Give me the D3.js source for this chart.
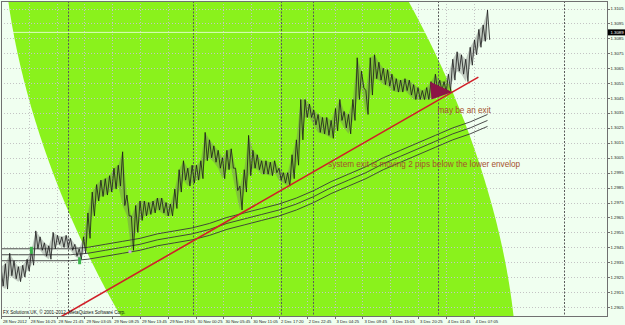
<!DOCTYPE html>
<html>
<head>
<meta charset="utf-8">
<script src="https://cdn.jsdelivr.net/npm/d3@7"></script>
<style>
  html, body { margin: 0; padding: 0; background: #f0fff0; }
  svg { display: block; font-family: 'Liberation Sans', Arial, sans-serif; }
</style>
</head>
<body>
<div id="chart"></div>
<script>
// price axis labels (right side)
const priceTicks = [1.3105, 1.3095, 1.3085, 1.3075, 1.3065, 1.3055, 1.3045, 1.3035, 1.3025, 1.3015,
  1.3005, 1.2995, 1.2985, 1.2975, 1.2965, 1.2955, 1.2945, 1.2935, 1.2925, 1.2915, 1.2905];
const currentPrice = 1.3089;

// time axis labels, one every 64 bars (M5)
const labelStep = 64;
const timeLabels = ['28 Nov 2012', '28 Nov 16:25', '28 Nov 21:45', '29 Nov 03:05', '29 Nov 08:25',
  '29 Nov 13:45', '29 Nov 19:05', '30 Nov 00:25', '30 Nov 05:45', '30 Nov 11:05', '2 Dec 17:20',
  '2 Dec 22:45', '3 Dec 04:25', '3 Dec 09:45', '3 Dec 15:05', '3 Dec 20:25', '4 Dec 01:45', '4 Dec 07:05'];

// day separators (bar index)
const daySeparators = [155, 443, 645, 719, 1007, 1295];

// price range per 10 bars
const barStep = 10;
const highs = [1.2932, 1.2934, 1.2941, 1.2936, 1.2932, 1.2933, 1.2937, 1.2943, 1.2956, 1.2952,
  1.2948, 1.2946, 1.2955, 1.2953, 1.2952, 1.2953, 1.2951, 1.2947, 1.2944, 1.2952,
  1.2968, 1.2982, 1.2987, 1.2990, 1.2991, 1.2993, 1.2998, 1.3000, 1.3009, 1.2980,
  1.2966, 1.2973, 1.2976, 1.2976, 1.2975, 1.2976, 1.2978, 1.2978, 1.2975, 1.2974,
  1.2984, 1.2997, 1.3003, 1.2998, 1.3000, 1.3000, 1.3003, 1.3022, 1.3017, 1.3013,
  1.3010, 1.3005, 1.3010, 1.3011, 1.2998, 1.2986, 1.2997, 1.3020, 1.3010, 1.3007,
  1.3003, 1.3003, 1.3002, 1.3003, 1.2998, 1.2995, 1.2995, 1.3007, 1.3017, 1.3044,
  1.3044, 1.3041, 1.3037, 1.3034, 1.3032, 1.3032, 1.3030, 1.3038, 1.3044, 1.3036,
  1.3034, 1.3044, 1.3072, 1.3063, 1.3050, 1.3072, 1.3074, 1.3069, 1.3065, 1.3064,
  1.3061, 1.3058, 1.3057, 1.3058, 1.3057, 1.3054, 1.3052, 1.3050, 1.3052, 1.3056,
  1.3061, 1.3057, 1.3056, 1.3061, 1.3071, 1.3076, 1.3074, 1.3071, 1.3079, 1.3084,
  1.3091, 1.3094, 1.3104];
const lows = [1.2919, 1.2917, 1.2926, 1.2924, 1.2922, 1.2925, 1.2929, 1.2933, 1.2944, 1.2943,
  1.2939, 1.2937, 1.2944, 1.2947, 1.2945, 1.2945, 1.2943, 1.2939, 1.2937, 1.2941,
  1.2951, 1.2966, 1.2976, 1.2979, 1.2980, 1.2982, 1.2984, 1.2986, 1.2973, 1.2966,
  1.2943, 1.2955, 1.2963, 1.2966, 1.2967, 1.2968, 1.2970, 1.2968, 1.2966, 1.2966,
  1.2971, 1.2982, 1.2990, 1.2986, 1.2988, 1.2990, 1.2991, 1.3003, 1.3005, 1.3002,
  1.2998, 1.2991, 1.2997, 1.2998, 1.2983, 1.2970, 1.2982, 1.2993, 1.2998, 1.2997,
  1.2994, 1.2994, 1.2993, 1.2995, 1.2990, 1.2988, 1.2986, 1.2991, 1.3000, 1.3017,
  1.3032, 1.3032, 1.3027, 1.3022, 1.3021, 1.3020, 1.3018, 1.3023, 1.3030, 1.3025,
  1.3021, 1.3030, 1.3044, 1.3052, 1.3034, 1.3047, 1.3058, 1.3057, 1.3054, 1.3053,
  1.3050, 1.3049, 1.3049, 1.3050, 1.3047, 1.3044, 1.3044, 1.3044, 1.3044, 1.3045,
  1.3050, 1.3050, 1.3049, 1.3050, 1.3057, 1.3063, 1.3061, 1.3056, 1.3067, 1.3074,
  1.3079, 1.3083, 1.3084];

// envelopes, one value per 40 bars
const envStep = 40;
const envUpper = [1.2944, 1.2944, 1.2944, 1.2944, 1.2944, 1.2945, 1.2947, 1.2949, 1.2951, 1.2954,
  1.2956, 1.2958, 1.2961, 1.2965, 1.2968, 1.2971, 1.2974, 1.2978, 1.2983, 1.2989,
  1.2994, 1.2999, 1.3005, 1.3010, 1.3015, 1.3020, 1.3025, 1.3029, 1.3034];
const envMiddle = [1.2940, 1.2940, 1.2940, 1.2940, 1.2940, 1.2941, 1.2943, 1.2945, 1.2947, 1.2950,
  1.2952, 1.2954, 1.2957, 1.2961, 1.2964, 1.2967, 1.2970, 1.2974, 1.2979, 1.2985,
  1.2990, 1.2995, 1.3001, 1.3006, 1.3011, 1.3016, 1.3021, 1.3025, 1.3030];
const envLower = [1.2936, 1.2936, 1.2936, 1.2936, 1.2936, 1.2937, 1.2939, 1.2941, 1.2943, 1.2946,
  1.2948, 1.2950, 1.2953, 1.2957, 1.2960, 1.2963, 1.2966, 1.2970, 1.2975, 1.2981,
  1.2986, 1.2991, 1.2997, 1.3002, 1.3007, 1.3012, 1.3017, 1.3021, 1.3026];

// drawn objects
const ellipseCenter = { bar: 596, price: 1.3010 };
const ellipseAxisA = { bars: 495, price: 0 };
const ellipseAxisB = { bars: 324, price: -0.0273 };
const trendLine = [{ bar: 129, price: 1.2897 }, { bar: 1099, price: 1.3059 }];
const exitTriangle = [{ bar: 988, price: 1.3056 }, { bar: 991, price: 1.3044 }, { bar: 1039, price: 1.3049 }];
const signals = [
  { bar: 70, price: 1.2943, kind: 'buy' },
  { bar: 181, price: 1.2936, kind: 'buy' },
  { bar: 297, price: 1.2942, kind: 'exit' }
];
const notes = [
  { bar: 1005, price: 1.3035, text: 'may be an exit' },
  { bar: 753, price: 1.2999, text: 'system exit is moving 2 pips below the lower envelop' }
];
const copyright = 'FX Solutions UK, \u00a9 2001-2012, MetaQuotes Software Corp.';

const width = 625;
const height = 325;
const plot = { left: 1, top: 1, right: 607, bottom: 316 };

const x = d3.scaleLinear().domain([0, 1280]).range([1, 557]);
const y = d3.scaleLinear().domain([1.2905, 1.3105]).range([307, 8.5]);

const svg = d3
  .select('#chart')
  .append('svg')
  .attr('width', width)
  .attr('height', height);

svg.append('rect').attr('width', width).attr('height', height).attr('fill', '#f0fff0');

svg
  .append('clipPath')
  .attr('id', 'plotClip')
  .append('rect')
  .attr('x', plot.left)
  .attr('y', plot.top)
  .attr('width', plot.right - plot.left)
  .attr('height', plot.bottom - plot.top);

const g = svg.append('g').attr('clip-path', 'url(#plotClip)');

// big ellipse object
const ellipsePts = d3.range(0, 361, 2).map(t => {
  const r = (t * Math.PI) / 180;
  return [
    x(ellipseCenter.bar + ellipseAxisA.bars * Math.cos(r) + ellipseAxisB.bars * Math.sin(r)),
    y(ellipseCenter.price + ellipseAxisA.price * Math.cos(r) + ellipseAxisB.price * Math.sin(r))
  ];
});
g.append('path')
  .attr('d', d3.line()(ellipsePts) + 'Z')
  .attr('fill', '#8af21c');

// grid
g.selectAll('.hgrid')
  .data(priceTicks)
  .enter()
  .append('line')
  .attr('x1', plot.left)
  .attr('x2', plot.right)
  .attr('y1', d => Math.round(y(d)) + 0.5)
  .attr('y2', d => Math.round(y(d)) + 0.5)
  .attr('stroke', '#c4c4c4')
  .attr('stroke-dasharray', '1,2');

g.selectAll('.vgrid')
  .data(timeLabels)
  .enter()
  .append('line')
  .attr('x1', (d, i) => Math.round(x(i * labelStep)) + 0.5)
  .attr('x2', (d, i) => Math.round(x(i * labelStep)) + 0.5)
  .attr('y1', plot.top)
  .attr('y2', plot.bottom)
  .attr('stroke', '#c4c4c4')
  .attr('stroke-dasharray', '1,2');

g.selectAll('.sep')
  .data(daySeparators)
  .enter()
  .append('line')
  .attr('x1', d => Math.round(x(d)) + 0.5)
  .attr('x2', d => Math.round(x(d)) + 0.5)
  .attr('y1', plot.top)
  .attr('y2', plot.bottom)
  .attr('stroke', '#5a5a5a')
  .attr('stroke-dasharray', '2,1.5');

// bid line
g.append('line')
  .attr('x1', plot.left)
  .attr('x2', plot.right)
  .attr('y1', y(currentPrice))
  .attr('y2', y(currentPrice))
  .attr('stroke', '#f2fff0')
  .attr('stroke-width', 0.8);

// envelopes
const envLine = d3
  .line()
  .x((d, i) => x(i * envStep))
  .y(d => y(d));
[envUpper, envMiddle, envLower].forEach(series => {
  g.append('path')
    .attr('d', envLine(series))
    .attr('fill', 'none')
    .attr('stroke', '#383838')
    .attr('stroke-width', 0.9);
});

// price bars: faint range band plus a high/low zigzag
const priceArea = d3
  .area()
  .x((d, i) => x(i * barStep))
  .y0((d, i) => y(lows[i]))
  .y1(d => y(d));
g.append('path')
  .attr('d', priceArea(highs))
  .attr('fill', '#6e6e6e')
  .attr('opacity', 0.35);

const zigzag = [];
highs.forEach((h, i) => {
  zigzag.push([x(i * barStep), y(h)]);
  zigzag.push([x(i * barStep + barStep / 2), y(lows[i])]);
});
g.append('path')
  .attr('d', d3.line()(zigzag))
  .attr('fill', 'none')
  .attr('stroke', '#1a1a1a')
  .attr('stroke-width', 0.8);

// signal markers
g.selectAll('.sig')
  .data(signals)
  .enter()
  .append('rect')
  .attr('x', d => x(d.bar) - 1.5)
  .attr('y', d => y(d.price) - (d.kind === 'buy' ? 3.5 : 1.5))
  .attr('width', 3)
  .attr('height', d => (d.kind === 'buy' ? 7 : 3))
  .attr('fill', d => (d.kind === 'buy' ? '#3cb44b' : '#c4a6d8'));

// trend line
g.append('line')
  .attr('x1', x(trendLine[0].bar))
  .attr('y1', y(trendLine[0].price))
  .attr('x2', x(trendLine[1].bar))
  .attr('y2', y(trendLine[1].price))
  .attr('stroke', '#d01f28')
  .attr('stroke-width', 1.6);

// triangle
g.append('polygon')
  .attr('points', exitTriangle.map(d => x(d.bar) + ',' + y(d.price)).join(' '))
  .attr('fill', '#8c1446');

// notes
g.selectAll('.note')
  .data(notes)
  .enter()
  .append('text')
  .attr('x', d => x(d.bar))
  .attr('y', d => y(d.price))
  .text(d => d.text)
  .attr('fill', '#a5502e')
  .style('font-size', '8.2px');

// frame
svg
  .append('rect')
  .attr('x', plot.left + 0.5)
  .attr('y', plot.top + 0.5)
  .attr('width', plot.right - plot.left)
  .attr('height', plot.bottom - plot.top)
  .attr('fill', 'none')
  .attr('stroke', '#707070');

// right axis
const yAxis = svg.append('g');
yAxis
  .selectAll('line')
  .data(priceTicks)
  .enter()
  .append('line')
  .attr('x1', plot.right + 0.5)
  .attr('x2', plot.right + 3)
  .attr('y1', d => Math.round(y(d)) + 0.5)
  .attr('y2', d => Math.round(y(d)) + 0.5)
  .attr('stroke', '#707070');
yAxis
  .selectAll('text')
  .data(priceTicks)
  .enter()
  .append('text')
  .attr('x', plot.right + 3.5)
  .attr('y', d => y(d) + 1.5)
  .text(d => d.toFixed(4))
  .attr('fill', '#222')
  .style('font-size', '4.3px');

svg
  .append('rect')
  .attr('x', plot.right + 1)
  .attr('y', y(currentPrice) - 3)
  .attr('width', width - plot.right - 1)
  .attr('height', 6)
  .attr('fill', '#000');
svg
  .append('text')
  .attr('x', plot.right + 3.5)
  .attr('y', y(currentPrice) + 1.5)
  .text(currentPrice.toFixed(4))
  .attr('fill', '#fff')
  .style('font-size', '4.3px');

// bottom axis
const xAxis = svg.append('g');
xAxis
  .selectAll('line')
  .data(timeLabels)
  .enter()
  .append('line')
  .attr('x1', (d, i) => Math.round(x(i * labelStep)) + 0.5)
  .attr('x2', (d, i) => Math.round(x(i * labelStep)) + 0.5)
  .attr('y1', plot.bottom + 0.5)
  .attr('y2', plot.bottom + 3)
  .attr('stroke', '#707070');
xAxis
  .selectAll('text')
  .data(timeLabels)
  .enter()
  .append('text')
  .attr('x', (d, i) => x(i * labelStep) + 2)
  .attr('y', plot.bottom + 6.5)
  .text(d => d)
  .attr('fill', '#222')
  .style('font-size', '4.2px');

svg
  .append('text')
  .attr('x', 3)
  .attr('y', plot.bottom - 2)
  .text(copyright)
  .attr('fill', '#111')
  .style('font-size', '4.6px');
</script>
</body>
</html>
